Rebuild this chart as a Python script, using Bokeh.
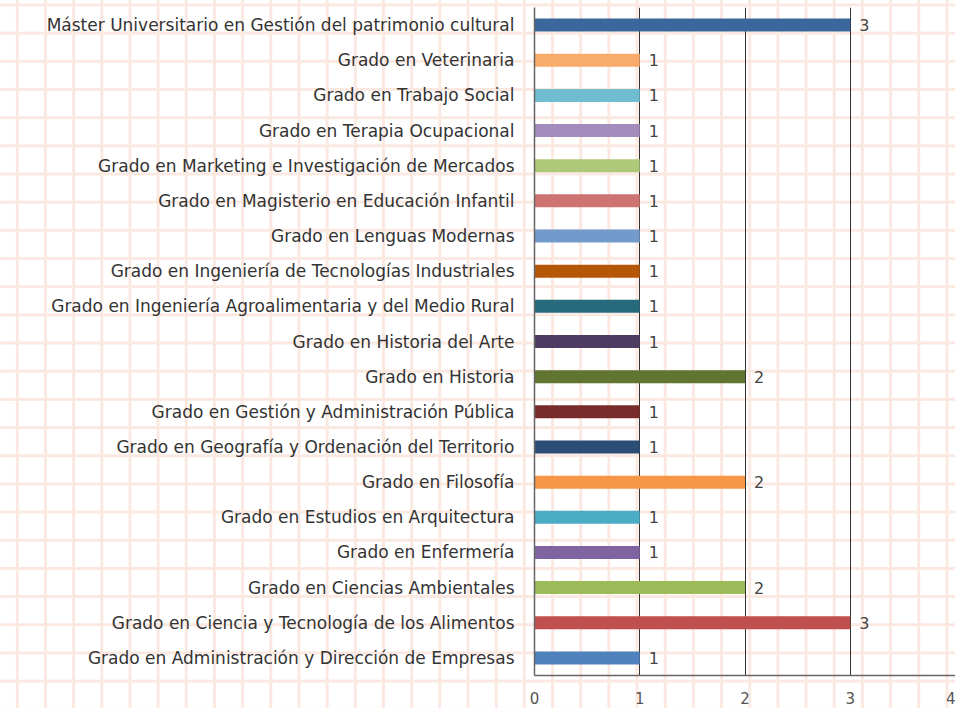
from bokeh.plotting import figure
from bokeh.models import ColumnDataSource, FactorRange, Range1d, FixedTicker, GlobalInlineStyleSheet
from bokeh.embed import file_html
from bokeh.resources import INLINE
from bokeh.core.properties import value

# ---- data (bottom to top) ----
programs = [
    "Grado en Administración y Dirección de Empresas",
    "Grado en Ciencia y Tecnología de los Alimentos",
    "Grado en Ciencias Ambientales",
    "Grado en Enfermería",
    "Grado en Estudios en Arquitectura",
    "Grado en Filosofía",
    "Grado en Geografía y Ordenación del Territorio",
    "Grado en Gestión y Administración Pública",
    "Grado en Historia",
    "Grado en Historia del Arte",
    "Grado en Ingeniería Agroalimentaria y del Medio Rural",
    "Grado en Ingeniería de Tecnologías Industriales",
    "Grado en Lenguas Modernas",
    "Grado en Magisterio en Educación Infantil",
    "Grado en Marketing e Investigación de Mercados",
    "Grado en Terapia Ocupacional",
    "Grado en Trabajo Social",
    "Grado en Veterinaria",
    "Máster Universitario en Gestión del patrimonio cultural",
]
counts = [1, 3, 2, 1, 1, 2, 1, 1, 2, 1, 1, 1, 1, 1, 1, 1, 1, 1, 3]
bar_colors = [
    "#4F81BD", "#C0504D", "#9BBB59", "#8064A2", "#4BACC6", "#F79646",
    "#2C4D75", "#772C2A", "#5F7530", "#4D3B62", "#276A7C", "#B65708",
    "#729ACA", "#CD7371", "#AFC97A", "#A18CBB", "#6FBDD1", "#F9AB6B",
    "#3A679C",
]
x_ticks = [0, 1, 2, 3, 4]

FONT = "DejaVu Sans"

src = ColumnDataSource(dict(
    program=programs,
    count=counts,
    color=bar_colors,
    label=[str(c) for c in counts],
))

page_css = GlobalInlineStyleSheet(css="""
html {
  background-color: #ffffff;
  background-image:
    linear-gradient(90deg, #fbe8e1 3px, transparent 3px),
    linear-gradient(180deg, #fbe8e1 3px, transparent 3px);
  background-size: 28.18px 28.18px;
  background-position: 15.8px 3.5px;
  overflow: hidden;
}
body { background: transparent; }
""")

p = figure(
    width=955, height=708,
    y_range=FactorRange(*programs),
    x_range=Range1d(0, 4.0),
    output_backend="svg", toolbar_location=None,
    min_border_left=534, min_border_right=0, min_border_top=7, min_border_bottom=33,
    background_fill_color=None, border_fill_color=None,
    outline_line_color=None,
    stylesheets=[page_css],
)

p.hbar(y="program", left=0, right="count", height=0.37, fill_color="color",
       line_color=None, source=src)
p.text(x="count", y="program", text="label", x_offset=9, text_baseline="middle",
       text_align="left", text_font=value(FONT), text_font_size="16px",
       text_color="#444444", source=src)

p.ygrid.grid_line_color = None
p.xgrid.ticker = FixedTicker(ticks=x_ticks)
p.xgrid.grid_line_color = "#333333"
p.xgrid.grid_line_width = 1

p.xaxis.ticker = FixedTicker(ticks=x_ticks)
p.xaxis.major_tick_out = 0
p.xaxis.major_tick_in = 0
p.xaxis.minor_tick_out = 0
p.xaxis.minor_tick_in = 0
p.xaxis.major_label_standoff = 16
p.xaxis.major_label_text_font = FONT
p.xaxis.major_label_text_font_size = "15px"
p.xaxis.major_label_text_color = "#555555"
p.xaxis.axis_line_color = "#666666"
p.xaxis.axis_line_width = 1.5

p.yaxis.major_tick_out = 0
p.yaxis.major_tick_in = 0
p.yaxis.major_label_standoff = 20
p.yaxis.major_label_text_font = FONT
p.yaxis.major_label_text_font_size = "17px"
p.yaxis.major_label_text_color = "#333333"
p.yaxis.axis_line_color = "#666666"
p.yaxis.axis_line_width = 1.5

open("out.html", "w").write(file_html(p, INLINE))
